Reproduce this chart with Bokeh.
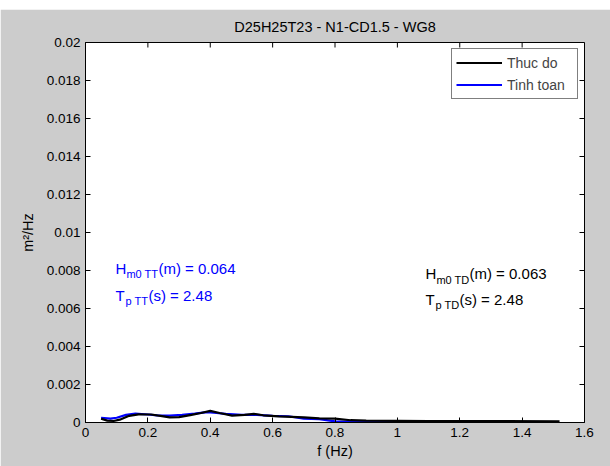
from bokeh.plotting import figure
from bokeh.models import Label, Legend, LegendItem, FixedTicker, Spacer
from bokeh.layouts import column
from bokeh.embed import file_html
from bokeh.resources import INLINE

# Measured spectrum (Thuc do)
f_td = [0.05, 0.07, 0.09, 0.11, 0.14, 0.17, 0.21, 0.24, 0.27, 0.30, 0.34, 0.37,
        0.40, 0.43, 0.47, 0.51, 0.54, 0.57, 0.62, 0.66, 0.70, 0.75, 0.80, 0.85,
        0.90, 1.00, 1.10, 1.30, 1.52]
s_td = [0.00020, 0.00010, 0.00008, 0.00015, 0.00035, 0.00043, 0.00042, 0.00035,
        0.00027, 0.00028, 0.00040, 0.00050, 0.00061, 0.00050, 0.00036, 0.00040,
        0.00045, 0.00038, 0.00032, 0.00030, 0.00027, 0.00022, 0.00020, 0.00012,
        0.00010, 0.00009, 0.00008, 0.00007, 0.00006]

# Computed spectrum (Tinh toan)
f_tt = [0.05, 0.08, 0.10, 0.13, 0.16, 0.20, 0.23, 0.27, 0.31, 0.35, 0.39, 0.42,
        0.45, 0.50, 0.55, 0.60, 0.65, 0.70, 0.75, 0.80, 0.85, 0.95, 1.03]
s_tt = [0.00025, 0.00020, 0.00025, 0.00040, 0.00047, 0.00042, 0.00038, 0.00036,
        0.00040, 0.00047, 0.00055, 0.00050, 0.00045, 0.00040, 0.00040, 0.00035,
        0.00033, 0.00020, 0.00018, 0.00006, 0.00005, 0.00005, 0.00005]

x_ticks = [0, 0.2, 0.4, 0.6, 0.8, 1.0, 1.2, 1.4, 1.6]
x_tick_labels = ["0", "0.2", "0.4", "0.6", "0.8", "1", "1.2", "1.4", "1.6"]
y_ticks = [0, 0.002, 0.004, 0.006, 0.008, 0.010, 0.012, 0.014, 0.016, 0.018, 0.020]
y_tick_labels = ["0", "0.002", "0.004", "0.006", "0.008", "0.01", "0.012",
                 "0.014", "0.016", "0.018", "0.02"]

FONT = "Liberation Sans"
X0, X1 = 0, 1.6
Y0, Y1 = 0, 0.02
FRAME_W, FRAME_H = 499, 380
TICK_PX = 5

p = figure(frame_width=FRAME_W, frame_height=FRAME_H, x_range=(X0, X1),
           y_range=(Y0, Y1), output_backend="svg", toolbar_location=None,
           min_border_left=85, min_border_right=26, min_border_top=33,
           min_border_bottom=44, background_fill_color="white",
           border_fill_color="#cccccc")
p.outline_line_color = "black"
p.grid.visible = False

p.title.text = "D25H25T23 - N1-CD1.5 - WG8"
p.title.align = "center"
p.title.text_font = FONT
p.title.text_font_size = "14.5px"
p.title.text_font_style = "normal"
p.title.text_color = "black"
p.title.standoff = 15


def style_axis(ax, ticks, labels):
    ax.ticker = FixedTicker(ticks=ticks)
    ax.major_label_overrides = {t: l for t, l in zip(ticks, labels)}
    ax.major_tick_in = TICK_PX
    ax.major_tick_out = 0
    ax.minor_tick_line_color = None
    ax.axis_line_color = "black"
    ax.major_tick_line_color = "black"
    ax.major_label_text_font = FONT
    ax.major_label_text_font_size = "13.5px"
    ax.major_label_text_color = "black"
    ax.axis_label_text_font = FONT
    ax.axis_label_text_font_size = "14.5px"
    ax.axis_label_text_font_style = "normal"
    ax.axis_label_text_color = "black"


style_axis(p.xaxis[0], x_ticks, x_tick_labels)
style_axis(p.yaxis[0], y_ticks, y_tick_labels)
p.xaxis[0].axis_label = "f (Hz)"
p.xaxis[0].axis_label_standoff = 3
p.yaxis[0].axis_label = "m²/Hz"
p.yaxis[0].axis_label_standoff = 8

# Mirrored inward ticks on the top and right edges of the box
dy = TICK_PX * (Y1 - Y0) / FRAME_H
dx = TICK_PX * (X1 - X0) / FRAME_W
p.segment(x0=x_ticks, x1=x_ticks, y0=[Y1] * len(x_ticks),
          y1=[Y1 - dy] * len(x_ticks), line_color="black", line_width=1)
p.segment(x0=[X1] * len(y_ticks), x1=[X1 - dx] * len(y_ticks), y0=y_ticks,
          y1=y_ticks, line_color="black", line_width=1)

r_tt = p.line(f_tt, s_tt, line_color="#0000ff", line_width=2.2)
r_td = p.line(f_td, s_td, line_color="black", line_width=2.2)

legend = Legend(items=[LegendItem(label="Thuc do", renderers=[r_td]),
                       LegendItem(label="Tinh toan", renderers=[r_tt])],
                location="top_right", margin=6, padding=4, spacing=3,
                glyph_width=46, glyph_height=19, label_height=19,
                label_width=66, label_standoff=5, label_text_font=FONT,
                label_text_font_size="14px", border_line_color="black",
                border_line_width=1, background_fill_color="white",
                background_fill_alpha=1)
p.add_layout(legend)

# Wave statistics annotations with subscripted names
H_TT, TP_TT = "0.064", "2.48"
H_TD, TP_TD = "0.063", "2.48"


def stat_line(x, y, main, sub, rest, color, sub_dx, rest_dx):
    common = dict(x=x, y=y, text_font=FONT, text_color=color,
                  text_baseline="alphabetic")
    p.add_layout(Label(text=main, text_font_size="15px", **common))
    p.add_layout(Label(text=sub, text_font_size="11px", x_offset=sub_dx,
                       y_offset=-6, **common))
    p.add_layout(Label(text=rest, text_font_size="15px", x_offset=rest_dx,
                       **common))


stat_line(0.096, 0.00811, "H", "m0 TT", "(m) = " + H_TT, "#0000ff", 11, 43)
stat_line(0.096, 0.00669, "T", "p TT", "(s) = " + TP_TT, "#0000ff", 10, 33)
stat_line(1.090, 0.00784, "H", "m0 TD", "(m) = " + H_TD, "black", 11, 44)
stat_line(1.090, 0.00648, "T", "p TD", "(s) = " + TP_TD, "black", 10, 34)

page = column(Spacer(width=610, height=9), p, spacing=0)

open("out.html", "w").write(file_html(page, INLINE))
